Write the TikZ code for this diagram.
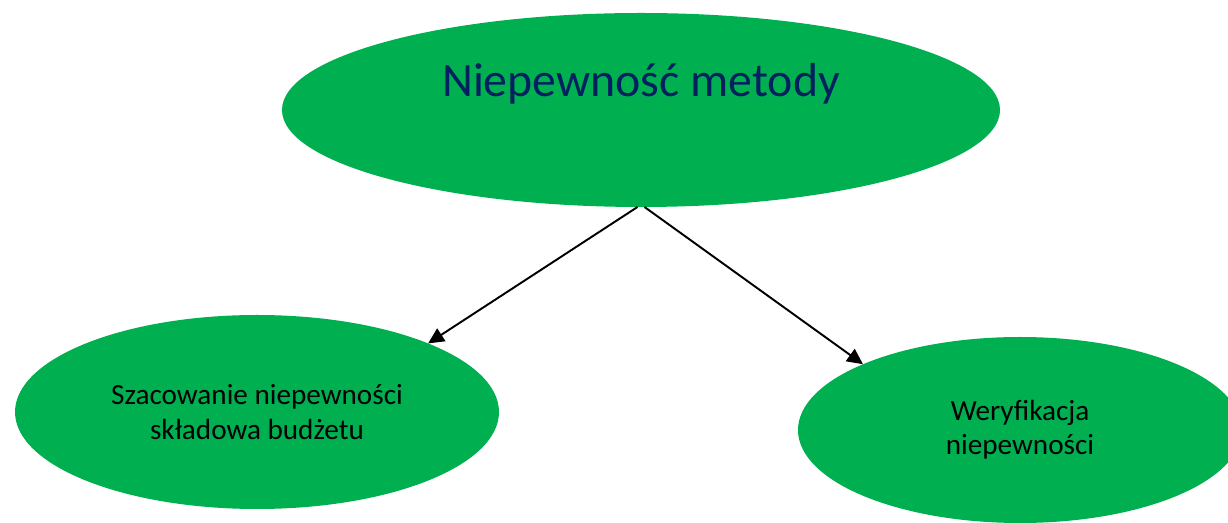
\documentclass[tikz,border=0pt]{standalone}
\usepackage{fontspec}
\setmainfont{Carlito}
\usetikzlibrary{
  arrows.meta,
  shapes,
}
\definecolor{pptgreen}{HTML}{00B050}
\definecolor{pptnavy}{HTML}{002060}
\tikzset{
  >={Triangle[length=9pt,width=8.5pt]},
  blob/.style={ellipse, fill=pptgreen, inner sep=0pt, outer sep=0pt, align=center},
  arr/.style={->, line width=1.1pt, black},
}

\begin{document}
\begin{tikzpicture}
      \useasboundingbox (0, 0) rectangle (24.56, -10.46);

      \node [blob, minimum width=14.36cm, minimum height=3.88cm,
        text height=20pt, text depth=35.5pt, text=pptnavy,
        font=\fontsize{27.2}{33}\selectfont] (metoda) at (12.82, -2.2) {Niepewność metody};
      \node [blob, minimum width=9.68cm, minimum height=3.88cm,
        font=\fontsize{16.6}{19.5}\selectfont] (szacowanie) at (5.14, -8.24) {Szacowanie niepewności\\składowa budżetu};
      \node [blob, minimum width=8.88cm, minimum height=3.72cm,
        font=\fontsize{16.6}{19.5}\selectfont] (weryfikacja) at (20.4, -8.6) {Weryfikacja\\niepewności};

      \draw [arr] ([xshift=-0.07cm] metoda.south) -- (szacowanie.north east);
      \draw [arr] ([xshift=0.07cm] metoda.south) -- (weryfikacja.north west);
    \end{tikzpicture}
\end{document}
